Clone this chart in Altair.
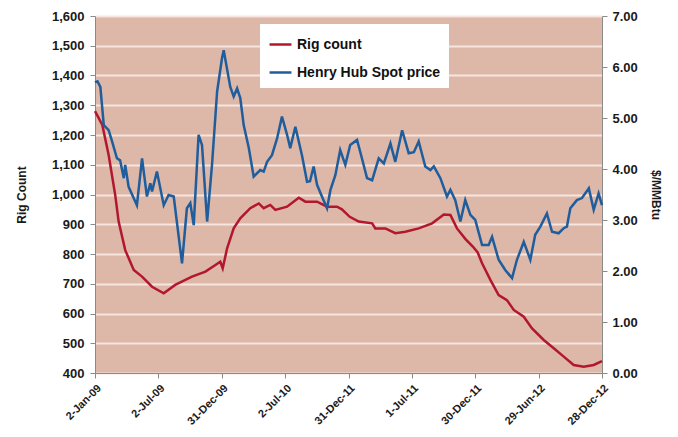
import altair as alt
import pandas as pd

x_labels = ["2-Jan-09", "2-Jul-09", "31-Dec-09", "2-Jul-10", "31-Dec-11",
            "1-Jul-11", "30-Dec-11", "29-Jun-12", "28-Dec-12"]
x_ticks = [0, 26, 52, 78, 104, 130, 156, 182, 208]

series_names = ["Rig count", "Henry Hub Spot price"]
series_colors = ["#B3172E", "#1F5D9C"]

rig_weeks = [0, 3, 5.6, 8.3, 9.7, 12.4, 15.9, 19.3, 23.4, 28.2, 32.9, 39.8, 45.3, 49.4, 51.4,
             52.4, 54.2, 56.9, 59.6, 63.7, 67.2, 69.2, 71.9, 74, 78.8, 83.6, 86.3, 91.1, 95.2,
             99.3, 101.3, 104.5, 108.2, 113.7, 115, 119.1, 123.2, 127.3, 132.8, 138.3, 143.1,
             145.8, 148.5, 152, 155, 157, 158.8, 162.2, 165.6, 169, 171.8, 175.9, 179.3, 184.1,
             188.2, 192.3, 196.4, 200.5, 204.6, 208]
rig_values = [1280, 1234, 1133, 998, 909, 813, 746, 724, 690, 668, 696, 724, 741, 763, 774,
              752, 819, 886, 920, 954, 970, 954, 965, 948, 959, 989, 976, 976, 959,
              959, 950, 925, 909, 903, 886, 886, 870, 875, 886, 903, 933,
              931, 886, 850, 825, 805, 769, 713, 662, 645, 612, 589, 550, 511,
              483, 455, 427, 421, 427, 440]

price_weeks = [0, 1, 2.2, 3.6, 5.6, 7, 9, 10.3, 11.8, 12.4,
               13.8, 17.2, 19.3, 21.3, 22.7, 23.4, 25.4, 28.2, 30.2, 32.3,
               35.7, 37.7, 39.1, 40.5, 42.5, 43.9, 46, 48, 50.1, 52.1,
               52.8, 55.5, 56.9, 58.3, 59.6, 61, 63.1, 65.1, 67.8, 69.2,
               70.6, 72.6, 74.7, 76.7, 78.8, 80.1, 82.2, 84.9, 87, 88.2,
               89.7, 91.1, 93.1, 95.2, 96.6, 98.6, 100.6, 102.7, 104.7, 107.5,
               109.5, 111.6, 113.7, 116.4, 118.5, 121.2, 123.2, 126, 128.7, 130.8,
               132.8, 135.5, 137.6, 139, 141.7, 144.4, 145.8, 147.8, 149.9, 151.9,
               154, 156, 158.8, 161.5, 162.9, 165.6, 168.3, 171.1, 173.1, 175.9,
               178.6, 180.6, 182.7, 185.4, 187.5, 190.2, 192.3, 193.6, 195, 197.7,
               199.8, 202.6, 204.6, 206.6, 208]
price_values = [5.70, 5.72, 5.61, 4.86, 4.76, 4.54, 4.21, 4.17, 3.82, 4.08,
                3.65, 3.29, 4.21, 3.46, 3.72, 3.56, 3.95, 3.29, 3.49, 3.46,
                2.15, 3.23, 3.33, 2.90, 4.67, 4.47, 2.97, 4.08, 5.52, 6.17,
                6.33, 5.61, 5.42, 5.58, 5.39, 4.86, 4.41, 3.85, 3.98, 3.95,
                4.14, 4.27, 4.60, 5.03, 4.67, 4.41, 4.83, 4.27, 3.75, 3.76,
                4.05, 3.69, 3.46, 3.23, 3.59, 3.88, 4.37, 4.08, 4.47, 4.57,
                4.21, 3.82, 3.78, 4.21, 4.11, 4.50, 4.14, 4.76, 4.31, 4.33,
                4.54, 4.05, 3.98, 4.05, 3.82, 3.46, 3.59, 3.39, 2.97, 3.39,
                3.10, 3.00, 2.51, 2.51, 2.67, 2.22, 2.02, 1.86, 2.22, 2.57,
                2.22, 2.71, 2.87, 3.13, 2.77, 2.74, 2.84, 2.87, 3.23, 3.39,
                3.43, 3.62, 3.20, 3.52, 3.29]

df = pd.concat([
    pd.DataFrame({"week": rig_weeks, "value": rig_values, "series": series_names[0]}),
    pd.DataFrame({"week": price_weeks, "value": price_values, "series": series_names[1]}),
], ignore_index=True)

label_expr = "[" + ",".join("'%s'" % s for s in x_labels) + "][round(datum.value/26)]"

x_enc = alt.X("week:Q",
              scale=alt.Scale(domain=[0, 208], nice=False, zero=False),
              axis=alt.Axis(values=x_ticks, labelExpr=label_expr, labelAngle=-45,
                            labelAlign="right", labelBaseline="top", grid=False,
                            title=None, labelFontSize=11, labelPadding=4))

color_enc = alt.Color("series:N",
                      scale=alt.Scale(domain=series_names, range=series_colors),
                      sort=series_names,
                      legend=alt.Legend(title=None, orient="none", legendX=165, legendY=8,
                                        fillColor="white", padding=8, rowPadding=8,
                                        symbolType="stroke", symbolSize=480,
                                        symbolStrokeWidth=2.5, labelFontSize=14,
                                        labelFontWeight="bold", labelColor="#111",
                                        labelFont="Liberation Sans"))

base = alt.Chart(df)

rig = base.transform_filter(alt.datum.series == series_names[0]).mark_line(
    strokeWidth=2.5).encode(
    x=x_enc,
    y=alt.Y("value:Q", scale=alt.Scale(domain=[400, 1600], nice=False, zero=False),
            axis=alt.Axis(values=list(range(400, 1601, 100)), format=",.0f",
                          title="Rig Count", titlePadding=23, labelPadding=6, grid=True,
                          gridColor="#F6E6DF", gridWidth=2, orient="left")),
    color=color_enc,
)

price = base.transform_filter(alt.datum.series == series_names[1]).mark_line(
    strokeWidth=2.5).encode(
    x=x_enc,
    y=alt.Y("value:Q", scale=alt.Scale(domain=[0, 7], nice=False, zero=True),
            axis=alt.Axis(values=[0, 1, 2, 3, 4, 5, 6, 7], format=".2f",
                          title="$/MMBtu", titlePadding=11, labelPadding=5,
                          grid=False, orient="right")),
    color=color_enc,
)

chart = alt.layer(rig, price).resolve_scale(y="independent").properties(
    width=507, height=357,
    padding={"left": 7, "top": 2, "right": 2, "bottom": 2},
    background="white",
).configure_view(
    fill="#DDB7A8", stroke="transparent"
).configure_axis(
    labelFont="Liberation Sans", titleFont="Liberation Sans",
    labelFontSize=13, labelFontWeight="bold", labelColor="#1a1a1a",
    titleFontSize=12, titleFontWeight="bold", titleColor="#1a1a1a",
    domainColor="#8a8a8a", tickColor="#8a8a8a", tickSize=5, domainWidth=1,
)

chart.save("out.html", embed_options={"renderer": "svg", "actions": False})
